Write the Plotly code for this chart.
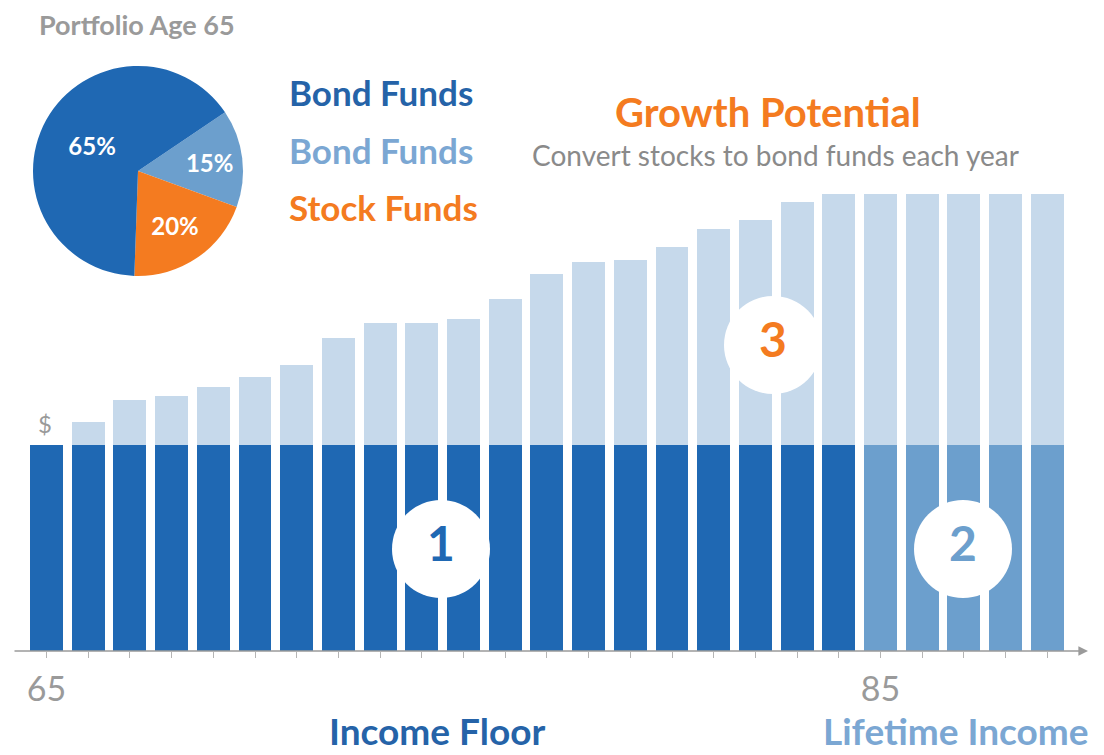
import plotly.graph_objects as go

# ---------------- data ----------------
ages = list(range(65, 90))
floor_values = [100] * 25
growth_values = [0, 11, 22, 24, 28, 33, 39, 52, 59, 59, 61, 71, 83, 89, 90, 96,
                 105, 109, 118, 122, 122, 122, 122, 122, 122]
lifetime_start_age = 85
tick_label_ages = [65, 85]

pie_labels = ["Bond Funds (lifetime income)", "Stock Funds", "Bond Funds (income floor)"]
pie_values = [15, 20, 65]

# ---------------- style ----------------
W, H = 1104, 755
DARK = "#1f68b3"
MED = "#6c9fcd"
LIGHT = "#c6d9eb"
ORANGE = "#f47b20"
GRAY = "#9a9a9a"
FONT = "Lato"

PX_PER_YEAR = 41.7
X0 = 65 - 46.5 / PX_PER_YEAR
X1 = X0 + W / PX_PER_YEAR
AXIS_PX = 651
PX_PER_UNIT = 2.06
Y_TOP = AXIS_PX / PX_PER_UNIT


def px(x):
    return x / W


def py(y):
    return 1 - y / H


def dx(p):
    return X0 + p / PX_PER_YEAR


def dy(p):
    return (AXIS_PX - p) / PX_PER_UNIT


floor_colors = [MED if a >= lifetime_start_age else DARK for a in ages]

fig = go.Figure()

fig.add_trace(go.Bar(
    x=ages, y=floor_values, width=0.79,
    marker=dict(color=floor_colors, line=dict(width=0)),
    hoverinfo="skip", showlegend=False,
))
fig.add_trace(go.Bar(
    x=ages, y=growth_values, width=0.79,
    marker=dict(color=LIGHT, line=dict(width=0)),
    hoverinfo="skip", showlegend=False,
))

# numbered circles
circles = [("1", dx(441), dy(549), DARK), ("2", dx(963), dy(549), MED), ("3", dx(773), dy(345), ORANGE)]
fig.add_trace(go.Scatter(
    x=[c[1] for c in circles], y=[c[2] for c in circles],
    mode="markers+text",
    marker=dict(size=98, color="white", line=dict(width=0)),
    text=[c[0] for c in circles],
    textposition="middle center",
    textfont=dict(family=FONT, size=48, color=[c[3] for c in circles], weight="bold"),
    hoverinfo="skip", showlegend=False,
))

# pie
fig.add_trace(go.Pie(
    labels=pie_labels, values=pie_values, sort=False,
    direction="clockwise", rotation=56,
    marker=dict(colors=[MED, ORANGE, DARK], line=dict(width=0)),
    textinfo="percent", texttemplate="%{percent:.0%}",
    textposition="inside", insidetextorientation="horizontal",
    textfont=dict(family=FONT, size=24, color="white", weight="bold"),
    domain=dict(x=[px(33), px(243)], y=[py(277), py(65)]),
    showlegend=False, hoverinfo="skip",
))

annotations = [
    dict(text="Portfolio Age 65", x=px(37), y=py(25), xanchor="left", yanchor="middle",
         font=dict(family=FONT, size=27, color=GRAY, weight="bold")),
    dict(text="Bond Funds", x=px(287), y=py(92), xanchor="left", yanchor="middle",
         font=dict(family=FONT, size=35, color="#2563a8", weight="bold")),
    dict(text="Bond Funds", x=px(287), y=py(150), xanchor="left", yanchor="middle",
         font=dict(family=FONT, size=35, color="#7ba7d3", weight="bold")),
    dict(text="Stock Funds", x=px(287), y=py(207), xanchor="left", yanchor="middle",
         font=dict(family=FONT, size=35, color=ORANGE, weight="bold")),
    dict(text="Growth Potential", x=px(768), y=py(112), xanchor="center", yanchor="middle",
         font=dict(family=FONT, size=40, color=ORANGE, weight="bold")),
    dict(text="Convert stocks to bond funds each year", x=px(775), y=py(155), xanchor="center",
         yanchor="middle", font=dict(family=FONT, size=28, color="#8a8a8a")),
    dict(text="$", x=px(45), y=py(423), xanchor="center", yanchor="middle",
         font=dict(family=FONT, size=24, color=GRAY)),
    dict(text="Income Floor", x=px(437), y=py(755), xanchor="center", yanchor="bottom",
         font=dict(family=FONT, size=37, color="#2563a8", weight="bold")),
    dict(text="Lifetime Income", x=px(956), y=py(755), xanchor="center", yanchor="bottom",
         font=dict(family=FONT, size=37, color="#7ba7d3", weight="bold")),
]
for a in annotations:
    a.update(xref="paper", yref="paper", showarrow=False)

# axis with arrow
annotations.append(dict(
    x=dx(1088), y=0, ax=dx(13), ay=0, xref="x", yref="y", axref="x", ayref="y",
    text="", showarrow=True, arrowhead=2, arrowsize=1.2, arrowwidth=1.6, arrowcolor=GRAY,
))

fig.update_layout(
    width=W, height=H,
    margin=dict(l=0, r=0, t=0, b=0),
    paper_bgcolor="white", plot_bgcolor="white",
    barmode="stack",
    annotations=annotations,
    xaxis=dict(
        range=[X0, X1], domain=[0, 1],
        tickvals=ages,
        ticktext=[str(a) if a in tick_label_ages else "" for a in ages],
        ticks="outside", ticklen=6, tickwidth=1, tickcolor="#b5b5b5",
        tickfont=dict(family=FONT, size=34, color=GRAY),
        ticklabelstandoff=2,
        showgrid=False, zeroline=False, showline=False,
    ),
    yaxis=dict(
        range=[0, Y_TOP], domain=[py(AXIS_PX), 1],
        visible=False, showgrid=False, zeroline=False,
    ),
)

fig.write_html("out.html")
